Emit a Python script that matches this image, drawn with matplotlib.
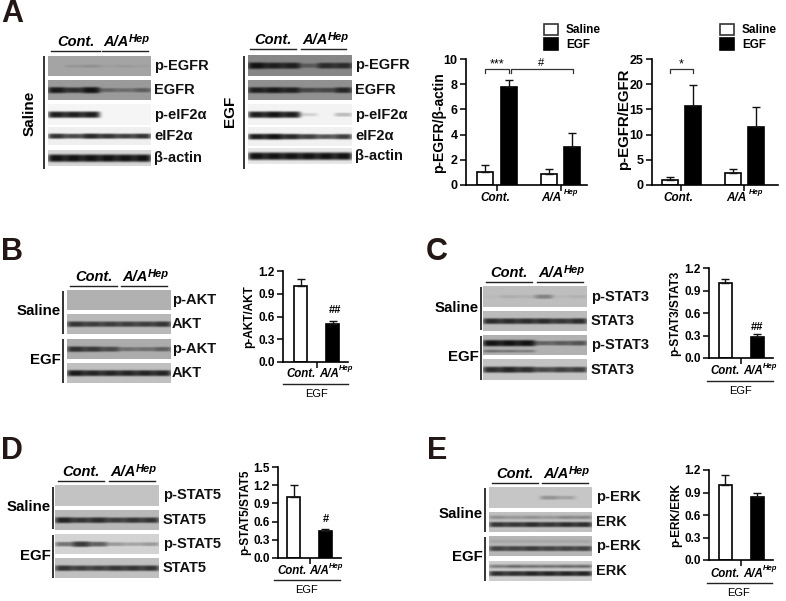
import matplotlib
matplotlib.use('Agg')
import matplotlib.pyplot as plt
from matplotlib.patches import Rectangle
import numpy as np

plt.rcParams['font.family'] = ['Liberation Sans', 'DejaVu Sans']
plt.rcParams['font.weight'] = 'bold'

W, H = 786, 601

# bar values
a1_vals = [1.0, 7.8, 0.9, 3.0]
a1_errs = [0.6, 0.5, 0.4, 1.1]
a2_vals = [1.0, 15.7, 2.3, 11.5]
a2_errs = [0.6, 4.1, 0.9, 4.0]
b_vals = [1.0, 0.5]
b_errs = [0.1, 0.04]
c_vals = [1.0, 0.28]
c_errs = [0.05, 0.04]
d_vals = [1.0, 0.44]
d_errs = [0.21, 0.03]
e_vals = [1.0, 0.84]
e_errs = [0.14, 0.06]

# band strength per lane: (background grey, lower band, upper band)
a_sal_pegfr = (165, [0, .10, .14, .05, .08, .05], None)
a_sal_egfr = (155, [.95, .8, 1, .4, .35, .45], None)
a_sal_peif = (246, [.95, .95, .95, 0, 0, 0], None)
a_sal_eif = (240, [.85, .75, .9, .85, .8, .85], None)
a_sal_actin = (215, [1] * 6, None)
a_egf_pegfr = (135, [1, .9, .9, .4, .8, .8], None)
a_egf_egfr = (145, [.9, .95, .9, .6, .6, .85], None)
a_egf_peif = (244, [.95, 1, .95, .15, 0, .25], None)
a_egf_eif = (242, [.95, 1, .9, .8, .7, .8], None)
a_egf_actin = (232, [1] * 6, None)
b_blots = [(178, [0] * 6, None),
           (185, [.8, .75, .75, .75, .75, .8], None),
           (172, [.8, .75, .65, .4, .4, .5], None),
           (192, [.95, .9, .9, .9, .9, .9], None)]
c_blots = [(190, [.03, .1, .08, .35, .04, .08], None),
           (188, [.85, .85, .85, .85, .8, .85], None),
           (178, [1, 1, 1, .5, .55, .6], None),
           (196, [.85, .9, .85, .7, .75, .75], None)]
# p-STAT3 EGF has the extra band under the main one
c_extra = [.45, .4, .35, 0, 0, 0]
d_blots = [(196, [0] * 6, None),
           (185, [.9, .8, .85, .75, .8, .8], None),
           (212, [.5, .8, .6, .3, .25, .3], None),
           (192, [.8, .75, .75, .8, .8, .8], None)]
e_blots = [(198, [0, 0, 0, .28, .2, 0], None),
           (192, [.8, .8, .85, .8, .85, .85], [.3, .25, .3, .25, .35, .35]),
           (182, [.7, .7, .75, .7, .7, .7], [.1, .1, .1, .1, .1, .1]),
           (205, [.85, .85, .9, .9, .9, .9], [.45, .55, .5, .5, .55, .55])]

a_names = ['p-EGFR', 'EGFR', 'p-eIF2α', 'eIF2α', 'β-actin']

fig = plt.figure(figsize=(W / 100, H / 100), dpi=100)
bg = fig.add_axes([0, 0, 1, 1])
bg.set_xlim(0, W)
bg.set_ylim(H, 0)
bg.axis('off')


def band_image(blot, x0, x1, y0, y1, center=.5, sig=.16, extra=None):
    back, low, up = blot
    h, w = (y1 - y0) * 3, (x1 - x0) * 3
    yy, xx = np.mgrid[0:h, 0:w]
    yy = yy / h
    xx = xx / w * 6
    dark = np.zeros((h, w))
    for i in range(6):
        across = np.exp(-((xx - i - .5) / .53) ** 4)
        if up is None:
            # weak bands are thinner as well as paler
            s = sig * (.45 + .55 * low[i])
            dark += low[i] * across * np.exp(-((yy - center) / s) ** 4)
        else:
            dark += low[i] * across * np.exp(-((yy - .62) / .13) ** 4)
            dark += up[i] * across * np.exp(-((yy - .26) / .09) ** 2)
        if extra is not None:
            dark += extra[i] * across * np.exp(-((yy - .8) / .07) ** 2)
    dark = np.clip(dark, 0, 1)
    return back + (18 - back) * dark


def draw_blot(blot, x0, x1, y0, y1, name, lx, fs=10.5, **kw):
    img = band_image(blot, x0, x1, y0, y1, **kw)
    bg.imshow(img, extent=(x0, x1, y1, y0), cmap='gray', vmin=0, vmax=255,
              aspect='auto', interpolation='bilinear')
    bg.text(lx, (y0 + y1) / 2, name, fontsize=fs, va='center', ha='left', color='#111111')


def head(c0, c1, a0, a1, y, fs=10.5):
    # Cont. and A/A-Hep header with the two lines under it
    bg.plot([c0, c1], [y, y], color='#222222', lw=1)
    bg.plot([a0, a1], [y, y], color='#222222', lw=1)
    bg.text((c0 + c1) / 2, y - 2, 'Cont.', style='italic', fontsize=fs, ha='center', va='bottom')
    bg.text(a0 + 1, y - 2, 'A/A', style='italic', fontsize=fs, ha='left', va='bottom')
    bg.text(a0 + 27, y - 7, 'Hep', style='italic', fontsize=fs - 2.5, ha='left', va='bottom')


def side(x, y0, y1):
    bg.plot([x, x], [y0, y1], color='#333333', lw=1.4, solid_capstyle='butt')


def bars(rect, pos, vals, errs, xlim, ylim, yticks, width, xticks, ylab, ylab_xy, fs=8.5, lab_fs=8.5):
    x0, x1, y0, y1 = rect
    ax = fig.add_axes([x0 / W, 1 - y1 / H, (x1 - x0) / W, (y1 - y0) / H])
    ax.patch.set_alpha(0)
    cols = (['white', 'black'] * 2)[:len(vals)]
    ax.bar(pos, vals, width=width, color=cols, edgecolor='black', linewidth=1.2)
    ax.errorbar(pos, vals, yerr=[[0] * len(errs), errs], fmt='none', ecolor='#111111',
                elinewidth=1, capsize=3, capthick=1)
    ax.set_xlim(*xlim)
    ax.set_ylim(*ylim)
    ax.set_yticks(yticks)
    ax.set_yticklabels(['%g' % t if max(yticks) > 2 else '%.1f' % t for t in yticks], fontsize=fs)
    ax.set_xticks(xticks)
    ax.set_xticklabels([])
    ax.tick_params(length=4, width=1.1, pad=2)
    for s in ['top', 'right']:
        ax.spines[s].set_visible(False)
    for s in ['left', 'bottom']:
        ax.spines[s].set_linewidth(1.2)
    bg.text(ylab_xy[0], ylab_xy[1], ylab, rotation=90, fontsize=lab_fs, ha='center', va='center')
    return ax


def under_bars(cx, ax0, ay, x0, x1, ly, ex, ey):
    # small panels: Cont. A/A-Hep, line, EGF
    bg.text(cx, ay, 'Cont.', style='italic', fontsize=8.3, ha='center', va='center')
    bg.text(ax0, ay, 'A/A', style='italic', fontsize=8.3, ha='left', va='center')
    bg.text(ax0 + 20, ay - 5, 'Hep', style='italic', fontsize=5.5, ha='left', va='center')
    bg.plot([x0, x1], [ly, ly], color='#222222', lw=1)
    bg.text(ex, ey, 'EGF', fontsize=8, ha='center', va='center', weight='normal')


# panel letters
for let, x, y in [('A', 1, 14), ('B', 1, 252), ('C', 426, 252), ('D', 1, 451), ('E', 427, 451)]:
    bg.text(x, y, let, fontsize=22, va='center', ha='left', color='#231815')

# A blots
head(51, 100, 102, 148, 51)
side(44, 56, 169)
bg.text(30, 113, 'Saline', rotation=90, fontsize=11, ha='center', va='center')
for blot, name, (y0, y1) in zip([a_sal_pegfr, a_sal_egfr, a_sal_peif, a_sal_eif, a_sal_actin], a_names,
                                [(56, 76), (80, 100), (104, 125), (127, 145), (150, 166)]):
    draw_blot(blot, 48, 151, y0, y1, name, 154, sig=.24 if name == 'β-actin' else .16)
head(250, 296, 301, 346, 49)
side(244, 56, 169)
bg.text(230, 111, 'EGF', rotation=90, fontsize=11, ha='center', va='center')
for blot, name, (y0, y1) in zip([a_egf_pegfr, a_egf_egfr, a_egf_peif, a_egf_eif, a_egf_actin], a_names,
                                [(55, 76), (80, 100), (104, 125), (127, 146), (148, 164)]):
    draw_blot(blot, 248, 352, y0, y1, name, 355, sig=.24 if name == 'β-actin' else .16)

# A bar charts
bars((466, 587, 59, 185), [0, 1, 2.67, 3.63], a1_vals, a1_errs, (-.79, 4.25), (0, 10), [0, 2, 4, 6, 8, 10],
     .67, [.5, 3.15], 'p-EGFR/β-actin', (439, 123), fs=9, lab_fs=10)
bars((652, 778, 59, 185), [0, 1, 2.74, 3.74], a2_vals, a2_errs, (-.78, 4.7), (0, 25), [0, 5, 10, 15, 20, 25],
     .7, [.5, 3.24], 'p-EGFR/EGFR', (624, 119), fs=9, lab_fs=10.8)
for cx, ax0, hx in [(495, 541, 564), (678, 726, 749)]:
    bg.text(cx, 198, 'Cont.', style='italic', fontsize=8.5, ha='center', va='center')
    bg.text(ax0, 198, 'A/A', style='italic', fontsize=8.5, ha='left', va='center')
    bg.text(hx, 193, 'Hep', style='italic', fontsize=5.5, ha='left', va='center')
for bx, tx in [(544, 566), (720, 742)]:
    bg.add_patch(Rectangle((bx, 24), 14, 11, fc='white', ec='#333333', lw=1.2))
    bg.add_patch(Rectangle((bx, 38), 14, 12, fc='black', ec='black', lw=1.2))
    bg.text(tx, 30, 'Saline', fontsize=8.5, va='center', ha='left')
    bg.text(tx, 45, 'EGF', fontsize=8.5, va='center', ha='left')
for x0, x1 in [(485, 509), (511, 573), (670, 693)]:
    bg.plot([x0, x0, x1, x1], [73, 69, 69, 73], color='#333333', lw=.9)
bg.text(497, 64, '***', fontsize=9, ha='center', va='center', weight='normal')
bg.text(541, 63, '#', fontsize=8, ha='center', va='center', weight='normal')
bg.text(681, 64, '*', fontsize=9, ha='center', va='center', weight='normal')

# B
head(70, 117, 121, 167, 286)
side(63, 291, 334)
side(63, 339, 383)
bg.text(61, 311, 'Saline', fontsize=10.8, ha='right', va='center')
bg.text(61, 360, 'EGF', fontsize=10.8, ha='right', va='center')
for blot, name, (y0, y1) in zip(b_blots, ['p-AKT', 'AKT', 'p-AKT', 'AKT'], [(290, 310), (314, 334), (339, 359), (363, 383)]):
    draw_blot(blot, 67, 171, y0, y1, name, 172)
bars((283, 348, 271, 362), [0, 1], b_vals, b_errs, (-.55, 1.48), (0, 1.2), [0, .3, .6, .9, 1.2], .42, [.5],
     'p-AKT/AKT', (249, 317), fs=8.5)
bg.text(335, 310, '##', fontsize=8, ha='center', va='center')
under_bars(301, 319, 374, 283, 348, 384, 316, 394)

# C
head(486, 532, 537, 583, 282)
side(481, 287, 330)
side(481, 336, 380)
bg.text(479, 308, 'Saline', fontsize=10.8, ha='right', va='center')
bg.text(479, 357, 'EGF', fontsize=10.8, ha='right', va='center')
for i, (blot, name, (y0, y1)) in enumerate(zip(c_blots, ['p-STAT3', 'STAT3', 'p-STAT3', 'STAT3'],
                                               [(286, 307), (311, 331), (335, 355), (359, 380)])):
    if i == 2:
        draw_blot(blot, 483, 587, y0, y1, name, 591, center=.4, extra=c_extra)
    else:
        draw_blot(blot, 483, 587, y0, y1, name, 591)
bars((709, 773, 268, 358), [0, 1], c_vals, c_errs, (-.52, 1.5), (0, 1.2), [0, .3, .6, .9, 1.2], .42, [.5],
     'p-STAT3/STAT3', (675, 313), fs=8.5)
bg.text(757, 327, '##', fontsize=8, ha='center', va='center')
under_bars(725, 743, 371, 707, 773, 381, 740, 391)

# D
head(58, 104, 109, 155, 481)
side(53, 487, 529)
side(53, 535, 578)
bg.text(51, 507, 'Saline', fontsize=10.8, ha='right', va='center')
bg.text(51, 556, 'EGF', fontsize=10.8, ha='right', va='center')
for blot, name, (y0, y1) in zip(d_blots, ['p-STAT5', 'STAT5', 'p-STAT5', 'STAT5'], [(485, 506), (510, 530), (534, 554), (558, 578)]):
    draw_blot(blot, 55, 159, y0, y1, name, 163)
bars((278, 341, 467, 558), [0, 1], d_vals, d_errs, (-.5, 1.5), (0, 1.5), [0, .3, .6, .9, 1.2, 1.5], .42, [.5],
     'p-STAT5/STAT5', (245, 512), fs=8.5)
bg.text(326, 519, '#', fontsize=8, ha='center', va='center')
under_bars(292, 309, 571, 274, 340, 580, 307, 590)

# E
head(492, 538, 542, 588, 483)
side(485, 488, 532)
side(485, 537, 581)
bg.text(483, 514, 'Saline', fontsize=10.8, ha='right', va='center')
bg.text(483, 557, 'EGF', fontsize=10.8, ha='right', va='center')
for blot, name, (y0, y1) in zip(e_blots, ['p-ERK', 'ERK', 'p-ERK', 'ERK'], [(487, 508), (512, 532), (536, 556), (561, 581)]):
    draw_blot(blot, 489, 592, y0, y1, name, 596)
bars((709, 773, 470, 560), [0, 1], e_vals, e_errs, (-.52, 1.5), (0, 1.2), [0, .3, .6, .9, 1.2], .42, [.5],
     'p-ERK/ERK', (676, 515), fs=8.5)
under_bars(725, 743, 574, 707, 772, 583, 739, 593)

bg.set_xlim(0, W)
bg.set_ylim(H, 0)
fig.savefig('out.png', dpi=100)
